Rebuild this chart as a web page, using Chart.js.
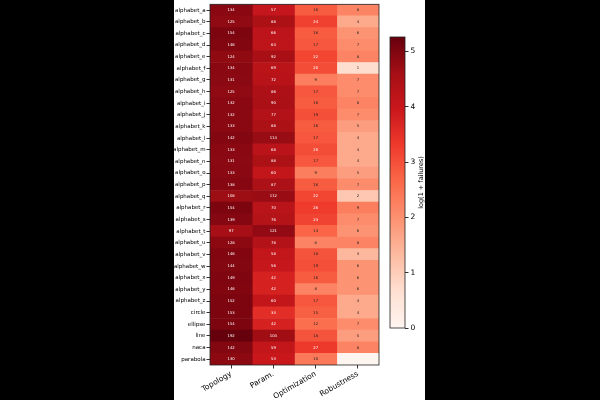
<!DOCTYPE html>
<html>
<head>
<meta charset="utf-8">
<script src="https://cdn.jsdelivr.net/npm/chart.js@4"></script>
<style>
  html, body { margin: 0; padding: 0; background: #000; }
  #page { position: relative; width: 600px; height: 400px; background: #000; overflow: hidden; }
  #panel { position: absolute; left: 174px; top: 0; width: 251px; height: 400px; background: #fff; }
  #heat { position: absolute; left: 0; top: 0; }
  #cbar { position: absolute; left: 211px; top: 0; }
</style>
</head>
<body>
<div id="page">
  <div id="panel">
    <canvas id="heat" width="251" height="400"></canvas>
    <canvas id="cbar" width="40" height="400"></canvas>
  </div>
</div>
<script>
const rowLabels = ['alphabet_a','alphabet_b','alphabet_c','alphabet_d','alphabet_e','alphabet_f','alphabet_g','alphabet_h',
  'alphabet_i','alphabet_j','alphabet_k','alphabet_l','alphabet_m','alphabet_n','alphabet_o','alphabet_p','alphabet_q',
  'alphabet_r','alphabet_s','alphabet_t','alphabet_u','alphabet_v','alphabet_w','alphabet_x','alphabet_y','alphabet_z',
  'circle','ellipse','line','naca','parabola'];
const columns = ['Topology', 'Param.', 'Optimization', 'Robustness'];

const topology     = [134,125,154,146,124,134,131,125,132,132,133,142,133,131,133,138,108,154,139,97,128,146,144,149,146,152,153,154,192,142,130];
const param        = [57,88,66,64,92,69,72,86,90,77,88,114,68,88,60,87,112,70,76,121,78,58,56,42,42,60,33,42,104,59,53];
const optimization = [16,24,16,17,22,20,9,17,16,19,16,17,20,17,9,16,22,26,23,14,8,18,19,16,8,17,15,12,18,27,10];
const robustness   = [8,4,6,7,8,1,7,7,8,7,5,4,4,4,5,7,2,9,7,6,8,3,6,6,6,4,4,7,5,8,0];
const colorbarTicks = [0, 1, 2, 3, 4, 5];

const series = [topology, param, optimization, robustness];
const vmax = Math.log1p(Math.max(...series.flat()));

// matplotlib "Reds"
const reds = ['#fff5f0','#fee0d2','#fcbba1','#fc9272','#fb6a4a','#ef3b2c','#cb181d','#a50f15','#67000d'];
function hex(c){ return [1,3,5].map(i => parseInt(c.substr(i,2),16)); }
function redsAt(t){
  t = Math.min(1, Math.max(0, t));
  const p = t * (reds.length - 1);
  const i = Math.min(reds.length - 2, Math.floor(p));
  const f = p - i;
  const a = hex(reds[i]), b = hex(reds[i+1]);
  const c = a.map((v,k) => Math.round(v + (b[k]-v)*f));
  return `rgb(${c[0]},${c[1]},${c[2]})`;
}

Chart.defaults.font.family = '"DejaVu Sans", sans-serif';
Chart.defaults.color = '#000';

const cellText = {
  id: 'cellText',
  afterDatasetsDraw(chart){
    const {ctx, scales: {x, y}, chartArea} = chart;
    ctx.save();
    ctx.font = '3.8px "DejaVu Sans"';
    ctx.textAlign = 'center';
    ctx.textBaseline = 'middle';
    series.forEach((vals, j) => {
      vals.forEach((v, i) => {
        if (v === 0) return;
        ctx.fillStyle = Math.log1p(v) > 3.02 ? '#fff' : '#222';
        ctx.fillText(String(v), x.getPixelForValue(j + 0.5), y.getPixelForValue(i));
      });
    });
    ctx.strokeStyle = '#222';
    ctx.lineWidth = 0.8;
    ctx.strokeRect(chartArea.left, chartArea.top, chartArea.right - chartArea.left, chartArea.bottom - chartArea.top);
    ctx.restore();
  }
};

new Chart(document.getElementById('heat'), {
  type: 'bar',
  data: {
    labels: rowLabels,
    datasets: series.map((vals, j) => ({
      label: columns[j],
      data: vals.map(() => [j, j + 1]),
      backgroundColor: vals.map(v => redsAt(Math.log1p(v) / vmax)),
      borderColor: vals.map(v => redsAt(Math.log1p(v) / vmax)),
      borderWidth: 0,
      barPercentage: 1,
      categoryPercentage: 1,
      grouped: false
    }))
  },
  options: {
    indexAxis: 'y',
    responsive: false,
    animation: false,
    devicePixelRatio: 1,
    layout: { padding: { top: 0, right: 46, left: 0, bottom: 0 } },
    plugins: { legend: { display: false }, tooltip: { enabled: false } },
    scales: {
      x: {
        type: 'linear', min: 0, max: 4,
        afterBuildTicks: s => { s.ticks = columns.map((c, j) => ({ value: j + 0.5 })); },
        afterFit: s => { s.height = 35; },
        ticks: {
          callback: (v, i) => columns[i],
          minRotation: 30, maxRotation: 30,
          font: { size: 7.5 }, color: '#000', padding: 1
        },
        grid: { drawOnChartArea: false, tickLength: 3.5, color: '#333' },
        border: { display: false }
      },
      y: {
        type: 'category',
        afterFit: s => { s.width = 36; },
        ticks: { font: { size: 5.5 }, color: '#000', padding: 1, autoSkip: false },
        grid: { offset: false, drawOnChartArea: false, tickLength: 3.5, color: '#333' },
        border: { display: false }
      }
    }
  },
  plugins: [cellText]
});

const cbarTitle = {
  id: 'cbarTitle',
  afterDraw(chart){
    const {ctx, chartArea} = chart;
    ctx.save();
    ctx.strokeStyle = '#222';
    ctx.lineWidth = 0.8;
    ctx.strokeRect(chartArea.left, chartArea.top, chartArea.right - chartArea.left, chartArea.bottom - chartArea.top);
    ctx.translate(36, (chartArea.top + chartArea.bottom) / 2);
    ctx.rotate(-Math.PI / 2);
    ctx.font = '6.5px "DejaVu Sans"';
    ctx.fillStyle = '#000';
    ctx.textAlign = 'center';
    ctx.textBaseline = 'middle';
    ctx.fillText('log(1 + failures)', 0, 0);
    ctx.restore();
  }
};

new Chart(document.getElementById('cbar'), {
  type: 'bar',
  data: {
    labels: [''],
    datasets: [{
      data: [[0, vmax]],
      backgroundColor: c => {
        const a = c.chart.chartArea;
        if (!a) return reds[4];
        const g = c.chart.ctx.createLinearGradient(0, a.bottom, 0, a.top);
        reds.forEach((col, k) => g.addColorStop(k / (reds.length - 1), col));
        return g;
      },
      borderWidth: 0,
      barPercentage: 1,
      categoryPercentage: 1
    }]
  },
  options: {
    responsive: false,
    animation: false,
    devicePixelRatio: 1,
    layout: { padding: { top: 37, left: 5, right: 0, bottom: 72 } },
    plugins: { legend: { display: false }, tooltip: { enabled: false } },
    scales: {
      x: { display: false },
      y: {
        position: 'right', min: 0, max: vmax,
        afterBuildTicks: s => { s.ticks = colorbarTicks.map(v => ({ value: v })); },
        afterFit: s => { s.width = 20; },
        ticks: { font: { size: 7.5 }, color: '#000', padding: 2 },
        grid: { drawOnChartArea: false, tickLength: 3.5, color: '#333' },
        border: { display: false }
      }
    }
  },
  plugins: [cbarTitle]
});
</script>
</body>
</html>
